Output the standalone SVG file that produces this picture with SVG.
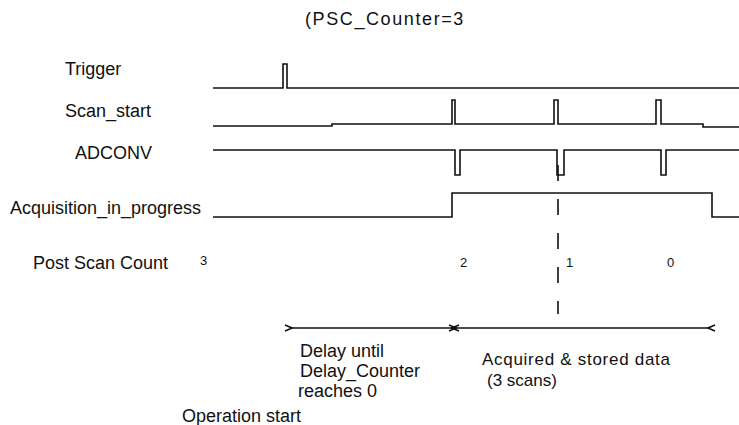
<svg xmlns="http://www.w3.org/2000/svg" width="739" height="425" viewBox="0 0 739 425">
  <style>
    text { font-family: "Liberation Sans", Arial, sans-serif; font-size: 18px; fill: #111; }
    .num { font-size: 13px; }
    .small { font-size: 17px; }
    .sig { fill: none; stroke: #111; stroke-width: 1.6; }
    .dash { fill: none; stroke: #111; stroke-width: 1.6; stroke-dasharray: 16 18; }
    .arr { fill: none; stroke: #111; stroke-width: 1.6; }
  </style>
  <defs>
    <marker id="head" viewBox="-1 -5 10 10" markerWidth="10" markerHeight="10" refX="0" refY="0" orient="auto-start-reverse" markerUnits="userSpaceOnUse">
      <path d="M7,-3 L0,0 L7,3" fill="none" stroke="#111" stroke-width="1.6"/>
    </marker>
  </defs>
  <rect width="739" height="425" fill="#fff"/>

  <text x="305" y="25" letter-spacing="1.6">(PSC_Counter=3</text>

  <g id="trigger">
    <text x="65" y="75">Trigger</text>
    <path class="sig" d="M213,88 H283 V64 H287 V88 H739"/>
  </g>
  <g id="scan_start">
    <text x="65" y="117">Scan_start</text>
    <path class="sig" d="M213,126 H332 V124 H452 V100 H455 V124 H554 V100 H558 V124 H656 V100 H661 V124 H703 V127 H739"/>
  </g>
  <g id="adconv">
    <text x="75" y="159">ADCONV</text>
    <path class="sig" d="M213,150 H455 V175 H460 V150 H557 V175 H564 V150 H661 V175 H666 V150 H739"/>
  </g>
  <g id="acquisition">
    <text x="10" y="214">Acquisition_in_progress</text>
    <path class="sig" d="M213,217 H452 V193 H712 V217 H739"/>
  </g>
  <g id="post_scan_count">
    <text x="33" y="269">Post Scan Count</text>
    <text class="num" x="200" y="265" font-size="11">3</text>
    <text class="num" x="460" y="267">2</text>
    <text class="num" x="566" y="267">1</text>
    <text class="num" x="667" y="267">0</text>
  </g>

  <g id="connectors">
    <path class="dash" d="M558,165 V314"/>
    <path class="arr" d="M292,328 H452" marker-start="url(#head)" marker-end="url(#head)"/>
    <path class="arr" d="M456,328 H708" marker-start="url(#head)" marker-end="url(#head)"/>
  </g>

  <g id="delay_label">
    <text x="300" y="357">Delay until</text>
    <text x="300" y="377">Delay_Counter</text>
    <text x="298" y="397">reaches 0</text>
  </g>
  <g id="acquired_label">
    <text class="small" x="482" y="365" textLength="188">Acquired &amp; stored data</text>
    <text class="small" x="487" y="386">(3 scans)</text>
  </g>
  <text x="182" y="422">Operation start</text>
</svg>
